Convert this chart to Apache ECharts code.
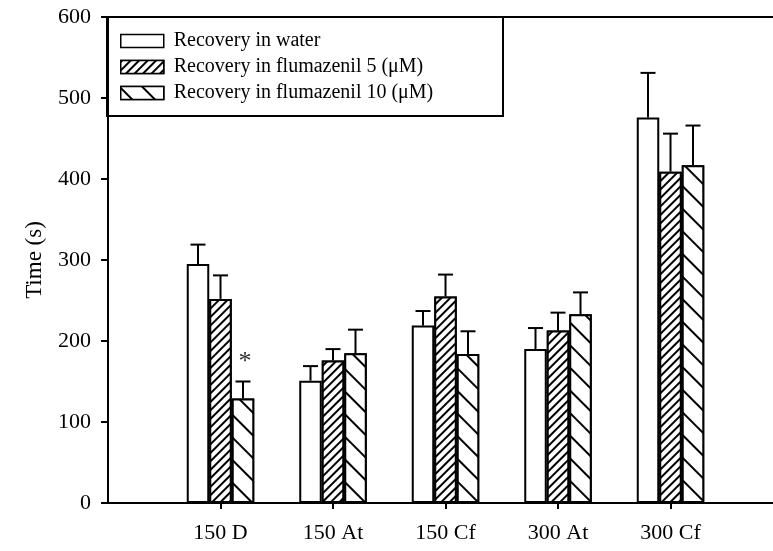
<!DOCTYPE html>
<html>
<head>
<meta charset="utf-8">
<script src="https://cdn.jsdelivr.net/npm/echarts@6/dist/echarts.min.js"></script>
<style>
html,body{margin:0;padding:0;background:#fff;}
#chart{width:773px;height:551px;}
</style>
</head>
<body>
<div id="chart"></div>
<script>
// ---- data ----
const categories = ['150 D', '150 At', '150 Cf', '300 At', '300 Cf'];
const seriesNames = ['Recovery in water', 'Recovery in flumazenil 5 (\u03bcM)', 'Recovery in flumazenil 10 (\u03bcM)'];
const water      = [295, 151, 219, 190, 476];
const waterErr   = [24, 18, 18, 26, 55];
const fluma5     = [252, 176, 255, 213, 409];
const fluma5Err  = [29, 14, 27, 22, 47];
const fluma10    = [129, 185, 184, 233, 417];
const fluma10Err = [21, 29, 28, 27, 49];
const fluma10Sig = [true, false, false, false, false];
const yTicks = [0, 100, 200, 300, 400, 500, 600];

const FONT = '"Liberation Serif", "Times New Roman", serif';
const positions = categories.map((c, i) => i + 1);

const values = [water, fluma5, fluma10];
const errors = [waterErr, fluma5Err, fluma10Err];
const sigs = [null, null, fluma10Sig];

const decals = [
  null,
  { symbol: 'rect', symbolSize: 1, dashArrayX: [1, 0], dashArrayY: [1.3, 3.4], rotation: -Math.PI / 4, color: '#000', backgroundColor: '#fff' },
  { symbol: 'rect', symbolSize: 1, dashArrayX: [1, 0], dashArrayY: [1.6, 13.6], rotation: Math.PI / 4, color: '#000', backgroundColor: '#fff' }
];

const series = [];
values.forEach((vals, s) => {
  const st = { color: '#fff', borderColor: '#000', borderWidth: 2 };
  if (decals[s]) st.decal = decals[s];
  series.push({
    name: seriesNames[s],
    type: 'bar',
    barWidth: '20%',
    barGap: '0%',
    itemStyle: st,
    emphasis: { disabled: true },
    data: vals.map((v, i) => [positions[i], v])
  });
});
values.forEach((vals, s) => {
  series.push({
    type: 'custom',
    silent: true,
    z: 3,
    data: vals.map((v, i) => [positions[i], v, v + errors[s][i], sigs[s] && sigs[s][i] ? 1 : 0]),
    renderItem: function (params, api) {
      const band = api.size([1, 0])[0];
      const off = (s - 1) * band * 0.2;
      const p0 = api.coord([api.value(0), api.value(1)]);
      const p1 = api.coord([api.value(0), api.value(2)]);
      const x = p0[0] + off;
      const cap = 7.5;
      const children = [
        { type: 'line', shape: { x1: x, y1: p0[1], x2: x, y2: p1[1] }, style: { stroke: '#000', lineWidth: 2 } },
        { type: 'line', shape: { x1: x - cap, y1: p1[1], x2: x + cap, y2: p1[1] }, style: { stroke: '#000', lineWidth: 2 } }
      ];
      if (api.value(3)) {
        children.push({ type: 'text', x: x + 2, y: p1[1] - 6, style: { text: '*', fill: '#333', font: '26px ' + FONT, align: 'center', verticalAlign: 'bottom' } });
      }
      return { type: 'group', children: children };
    }
  });
});

const chart = echarts.init(document.getElementById('chart'), null, { renderer: 'canvas' });
chart.setOption({
  animation: false,
  backgroundColor: '#fff',
  grid: { left: 108, right: 0, top: 17, bottom: 48 },
  legend: {
    data: seriesNames,
    orient: 'vertical',
    left: 115,
    top: 26,
    itemWidth: 43,
    itemHeight: 13,
    itemGap: 6,
    icon: 'rect',
    itemStyle: { borderColor: '#000', borderWidth: 1.5 },
    textStyle: { fontFamily: FONT, fontSize: 20, color: '#000', padding: [0, 0, 0, 5] },
    selectedMode: false
  },
  graphic: [
    { type: 'rect', shape: { x: 107, y: 17, width: 396, height: 99 }, style: { fill: 'none', stroke: '#000', lineWidth: 2 }, z: 1 }
  ],
  xAxis: [
    {
      type: 'value', min: 0, max: 5.911, position: 'bottom',
      axisLine: { show: true, lineStyle: { color: '#000', width: 2 } },
      axisTick: { show: true, length: 6, customValues: positions, lineStyle: { color: '#000', width: 2 } },
      axisLabel: { customValues: positions, formatter: v => categories[Math.round(v) - 1] || '', fontFamily: FONT, fontSize: 22, color: '#000', margin: 19 },
      splitLine: { show: false }
    },
    {
      type: 'value', min: 0, max: 5.911, position: 'top',
      axisLine: { show: true, lineStyle: { color: '#000', width: 2 } },
      axisTick: { show: false }, axisLabel: { show: false }, splitLine: { show: false }
    }
  ],
  yAxis: {
    type: 'value', min: yTicks[0], max: yTicks[yTicks.length - 1], interval: 100,
    name: 'Time (s)', nameLocation: 'middle', nameGap: 62,
    nameTextStyle: { fontFamily: FONT, fontSize: 23, color: '#000' },
    axisLine: { show: true, lineStyle: { color: '#000', width: 2 } },
    axisTick: { show: true, length: 7, inside: false, lineStyle: { color: '#000', width: 2 } },
    axisLabel: { fontFamily: FONT, fontSize: 22, color: '#000', margin: 17 },
    splitLine: { show: false }
  },
  series: series
});
</script>
</body>
</html>
